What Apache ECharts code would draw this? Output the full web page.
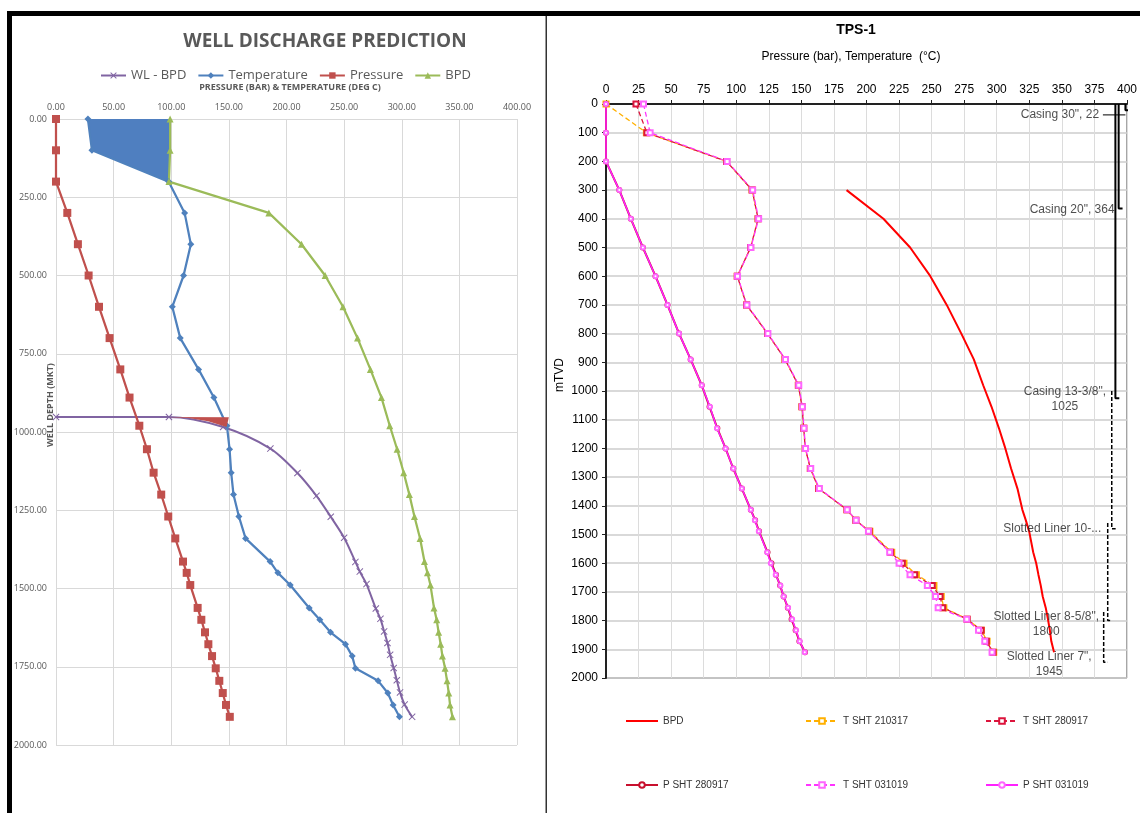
<!DOCTYPE html>
<html>
<head>
<meta charset="utf-8">
<script src="https://cdn.jsdelivr.net/npm/echarts@6/dist/echarts.min.js"></script>
<style>
html,body{margin:0;padding:0;background:#fff;}
#main{width:1140px;height:813px;}
</style>
</head>
<body>
<div id="main"></div>
<script>
// depth stations (m), shared by both charts
var depths = [0,100,200,300,400,500,600,700,800,890,980,1055,1130,1200,1270,1340,1414,1450,1489,1562,1600,1640,1678,1716,1755,1795,1834,1872,1910];

// WELL DISCHARGE PREDICTION
var leftPressure = [0,0,0,9.8,19,28.3,37.3,46.5,55.8,63.8,72.3,78.9,84.7,91.3,97.4,103.5,110.2,113.4,116.5,122.9,126.1,129.3,132.2,135.4,138.6,141.7,144.7,147.5,150.8];
var leftTemp = [27.7,31.2,97.7,111.6,117,110.7,100.9,107.8,123.7,137,148.3,150.6,152,154,158.7,164.5,185.8,192.5,203.2,219.7,228.9,238.2,251.2,257,259.8,279.5,287.9,292.5,298];
var bpd = [99,99,98,184.7,213,233.5,249,261.6,272.8,282.4,289.6,296,301.7,306.6,311,315.9,319.7,322.3,324.9,328,330.3,332,333.8,335.3,337.6,339.3,340.8,341.9,344];
var wlDepth = [952,952,984,1053,1131,1204,1271,1338,1415,1446,1486,1564,1597,1637,1674,1712,1754,1793,1832,1871,1910];
var wlBpd = [0,98,145,186,209.5,226,238.4,250,259.8,263.6,269.4,277.5,281.5,284.7,287.6,289.9,293,295.7,298.5,302.5,309];
var blueFill = [[27.7,0],[99,0],[99,100],[98,200],[97.7,200],[31.2,100]];
var redFill = [[98,952],[150,953],[148,984],[132,966],[115,955]];

// TPS-1
var tSht210317 = [0,31,92.6,112.2,116.8,111,100.8,107.9,124,137.5,147.7,150.5,151.8,153,156.9,163.3,185,191.8,202.6,219.4,228.8,238.3,251.8,257.4,259.4,277.3,288.3,292.6,297.7];
var tSht280917 = [23,31.4,92.6,112.2,116.8,111,100.8,107.9,124,137.5,147.7,150.5,151.8,153,156.9,163.3,185,191.8,202,218.5,227.5,237,250.5,256.5,258.5,277.3,288,292,297.2];
var pSht280917 = [0,0,0,10.2,19.1,28.3,38,47.2,56.1,65,73.5,79.5,85.5,91.8,97.7,104.3,111.2,114.5,117.5,124,127,130.5,133.7,136.4,139.6,142.5,145.6,148.5,152.8];
var tSht031019 = [28.8,33.9,93,112.6,117.2,111.2,101,108.2,124.3,137.8,148,150.8,152,153.2,157.2,163.8,185.2,192,201.5,217.8,225,233.4,246.7,253,255,277,286,290.8,296.4];
var pSht031019 = [0,0,0,10.2,19.1,28.3,38,47.2,56.1,65,73.5,79.8,85.2,91.8,97.7,104.3,111.2,114.3,117.3,123.7,126.5,130.3,133.9,136.4,139.8,142.9,145.9,148.7,152.6];

// casing / liner program
var casingLabels = ['Casing 30", 22', 'Casing 20", 364', 'Casing 13-3/8",\n1025', 'Slotted Liner 10-...', 'Slotted Liner 8-5/8",\n1800', 'Slotted Liner 7",\n1945'];
var casingTop = [0,0,0,1000,1460,1770];
var casingShoe = [22,364,1025,1480,1800,1945];
var casingX = [398.8,393.6,391.1,388.3,385.2,382.1];
var casingDashed = [false,false,false,true,true,true];
var labelOffset = [[-65,5],[-46,2],[-50,2],[-59,0],[-61,4],[-54,2]];

function pts(vals, ds) {
  return vals.map(function (v, i) { return [v, ds[i]]; });
}

function polygonSeries(poly, color, z) {
  return {
    type: 'custom', xAxisIndex: 0, yAxisIndex: 0, z: z, silent: true,
    data: poly,
    encode: { x: 0, y: 1 },
    renderItem: function (params, api) {
      if (params.dataIndex > 0) return;
      var p = poly.map(function (q) { return api.coord(q); });
      return { type: 'polygon', shape: { points: p }, style: { fill: color } };
    }
  };
}

var xMark = 'path://M0,1L1,0L5,4L9,0L10,1L6,5L10,9L9,10L5,6L1,10L0,9L4,5Z';
var grey = '#595959';
var arial = '"Liberation Sans", Arial, sans-serif';
var calib = '"Open Sans", sans-serif';

var chart = echarts.init(document.getElementById('main'));

var series = [
  polygonSeries(blueFill, '#4f7fc0', 1),
  {
    name: 'WL - BPD', type: 'line', xAxisIndex: 0, yAxisIndex: 0, smooth: 0.3,
    data: pts(wlBpd, wlDepth), symbol: xMark, symbolSize: 7,
    lineStyle: { color: '#8064A2', width: 2 }, itemStyle: { color: '#8064A2' }
  },
  {
    name: 'Temperature', type: 'line', xAxisIndex: 0, yAxisIndex: 0,
    data: pts(leftTemp, depths), symbol: 'diamond', symbolSize: 7,
    lineStyle: { color: '#4F81BD', width: 2.25 }, itemStyle: { color: '#4F81BD' }
  },
  {
    name: 'Pressure', type: 'line', xAxisIndex: 0, yAxisIndex: 0,
    data: pts(leftPressure, depths), symbol: 'rect', symbolSize: 8,
    lineStyle: { color: '#C0504D', width: 2.25 }, itemStyle: { color: '#C0504D' }
  },
  {
    name: 'BPD', type: 'line', xAxisIndex: 0, yAxisIndex: 0,
    data: pts(bpd, depths), symbol: 'triangle', symbolSize: 7,
    lineStyle: { color: '#9BBB59', width: 2.25 }, itemStyle: { color: '#9BBB59' }
  },
  polygonSeries(redFill, '#C0504D', 5),

  // right chart
  {
    name: 'BPD ', type: 'line', xAxisIndex: 1, yAxisIndex: 1,
    data: pts(bpd.slice(3), depths.slice(3)), symbol: 'none',
    lineStyle: { color: '#FF0000', width: 2 }, itemStyle: { color: '#FF0000' }
  },
  {
    name: 'T SHT 210317', type: 'line', xAxisIndex: 1, yAxisIndex: 1,
    data: pts(tSht210317, depths), symbol: 'emptyRect', symbolSize: 5,
    lineStyle: { color: '#FFB000', width: 1.3, type: [5, 3] }, itemStyle: { color: '#FFB000', borderWidth: 1 }
  },
  {
    name: 'T SHT 280917', type: 'line', xAxisIndex: 1, yAxisIndex: 1,
    data: pts(tSht280917, depths), symbol: 'emptyRect', symbolSize: 5,
    lineStyle: { color: '#DC143C', width: 1.3, type: [5, 3] }, itemStyle: { color: '#DC143C', borderWidth: 1 }
  },
  {
    name: 'P SHT 280917', type: 'line', xAxisIndex: 1, yAxisIndex: 1,
    data: pts(pSht280917, depths), symbol: 'emptyCircle', symbolSize: 4,
    lineStyle: { color: '#C8102E', width: 2 }, itemStyle: { color: '#C8102E', borderWidth: 1 }
  },
  {
    name: 'T SHT 031019', type: 'line', xAxisIndex: 1, yAxisIndex: 1,
    data: pts(tSht031019, depths), symbol: 'emptyRect', symbolSize: 5,
    lineStyle: { color: '#FF33FF', width: 1.3, type: [5, 3] }, itemStyle: { color: '#FF66FF', borderWidth: 1 }
  },
  {
    name: 'P SHT 031019', type: 'line', xAxisIndex: 1, yAxisIndex: 1,
    data: pts(pSht031019, depths), symbol: 'emptyCircle', symbolSize: 4,
    lineStyle: { color: '#FF22FF', width: 1.5 }, itemStyle: { color: '#FF66FF', borderWidth: 1 }
  }
];

// casing strings
casingLabels.forEach(function (txt, i) {
  var x = casingX[i];
  series.push({
    type: 'line', xAxisIndex: 1, yAxisIndex: 1, silent: true, symbol: 'none', z: 6,
    data: [[x, casingTop[i]], [x, casingShoe[i]], [x + 3, casingShoe[i]]],
    lineStyle: { color: '#000', width: casingDashed[i] ? 1.5 : 2, type: casingDashed[i] ? [4, 2] : 'solid' }
  });
  series.push({
    type: 'scatter', xAxisIndex: 1, yAxisIndex: 1, silent: true, symbolSize: 1, z: 7,
    itemStyle: { color: 'transparent' },
    data: [[x, casingShoe[i]]],
    label: {
      show: true, formatter: txt, position: labelOffset[i], align: 'center', verticalAlign: 'middle',
      fontFamily: arial, fontSize: 12, color: '#222', lineHeight: 15
    }
  });
});
// leader for the conductor label
series.push({
  type: 'line', xAxisIndex: 1, yAxisIndex: 1, silent: true, symbol: 'none', z: 6,
  data: [[381.5, 38], [casingX[0], 38]],
  lineStyle: { color: '#000', width: 1 }
});

function rightLegend(name, left, top, noMarker) {
  var item = noMarker ? { name: name, itemStyle: { opacity: 0 } } : name;
  return {
    data: [item], left: left, top: top, itemWidth: 32, itemHeight: 7,
    textStyle: { fontFamily: arial, fontSize: 10, color: '#333' }
  };
}

var option = {
  backgroundColor: '#fff',
  animation: false,
  grid: [
    { left: 56, top: 119, width: 461, height: 626 },
    { left: 606, top: 104, width: 522, height: 574, show: true, borderColor: '#555', borderWidth: 1 }
  ],
  legend: [
    {
      data: ['WL - BPD', 'Temperature', 'Pressure', 'BPD'], left: 95, top: 64,
      itemWidth: 25, itemHeight: 8, itemGap: 11,
      textStyle: { fontFamily: calib, fontSize: 13, color: grey }
    },
    rightLegend('BPD ', 620, 711, true),
    rightLegend('T SHT 210317', 800, 711),
    rightLegend('T SHT 280917', 980, 711),
    rightLegend('P SHT 280917', 620, 775),
    rightLegend('T SHT 031019', 800, 775),
    rightLegend('P SHT 031019', 980, 775)
  ],
  xAxis: [
    {
      gridIndex: 0, type: 'value', position: 'top', min: 0, max: 400, interval: 50,
      axisLine: { show: false }, axisTick: { show: false },
      axisLabel: { formatter: function (v) { return v.toFixed(2); }, fontFamily: calib, fontSize: 9, color: grey, margin: 7 },
      splitLine: { lineStyle: { color: '#d9d9d9', width: 1 } }
    },
    {
      gridIndex: 1, type: 'value', position: 'top', min: 0, max: 400, interval: 25,
      axisLine: { show: true, onZero: false, lineStyle: { color: '#222', width: 2 } },
      axisTick: { show: true, length: 4, lineStyle: { color: '#222' } },
      axisLabel: { fontFamily: arial, fontSize: 12, color: '#000', margin: 8 },
      splitLine: { lineStyle: { color: '#dcdcdc', width: 1 } }
    }
  ],
  yAxis: [
    {
      gridIndex: 0, type: 'value', inverse: true, min: 0, max: 2000, interval: 250,
      axisLine: { show: false }, axisTick: { show: false },
      axisLabel: { formatter: function (v) { return v.toFixed(2); }, fontFamily: calib, fontSize: 9, color: grey, margin: 9 },
      splitLine: { lineStyle: { color: '#d9d9d9', width: 1 } }
    },
    {
      gridIndex: 1, type: 'value', inverse: true, min: 0, max: 2000, interval: 100,
      axisLine: { show: true, onZero: false, lineStyle: { color: '#222', width: 2 } },
      axisTick: { show: true, length: 4, lineStyle: { color: '#222' } },
      axisLabel: { formatter: function (v) { return String(v); }, fontFamily: arial, fontSize: 12, color: '#000', margin: 8 },
      splitLine: { lineStyle: { color: '#cccccc', width: 1.5 } }
    }
  ],
  graphic: [
    // frame
    { type: 'rect', shape: { x: 7, y: 11, width: 1133, height: 5 }, style: { fill: '#000' }, silent: true },
    { type: 'rect', shape: { x: 7, y: 11, width: 5, height: 802 }, style: { fill: '#000' }, silent: true },
    { type: 'rect', shape: { x: 545.5, y: 16, width: 1.5, height: 797 }, style: { fill: '#333' }, silent: true },
    // left titles
    { type: 'text', x: 325, y: 42, style: { text: 'WELL DISCHARGE PREDICTION', font: 'bold 19px "Open Sans", sans-serif', fill: grey, align: 'center', verticalAlign: 'middle' } },
    { type: 'text', x: 290, y: 87, style: { text: 'PRESSURE (BAR) & TEMPERATURE (DEG C)', font: 'bold 9px "Open Sans", sans-serif', fill: grey, align: 'center', verticalAlign: 'middle' } },
    { type: 'text', x: 50, y: 405, rotation: Math.PI / 2, style: { text: 'WELL DEPTH (MKT)', font: 'bold 9px "Open Sans", sans-serif', fill: grey, align: 'center', verticalAlign: 'middle' } },
    // right titles
    { type: 'text', x: 856, y: 30, style: { text: 'TPS-1', font: 'bold 14px "Liberation Sans", Arial, sans-serif', fill: '#000', align: 'center', verticalAlign: 'middle' } },
    { type: 'text', x: 851, y: 57, style: { text: 'Pressure (bar), Temperature  (°C)', font: '12px "Liberation Sans", Arial, sans-serif', fill: '#000', align: 'center', verticalAlign: 'middle' } },
    { type: 'text', x: 560, y: 375, rotation: Math.PI / 2, style: { text: 'mTVD', font: '12px "Liberation Sans", Arial, sans-serif', fill: '#000', align: 'center', verticalAlign: 'middle' } }
  ],
  series: series
};

chart.setOption(option);
</script>
</body>
</html>
